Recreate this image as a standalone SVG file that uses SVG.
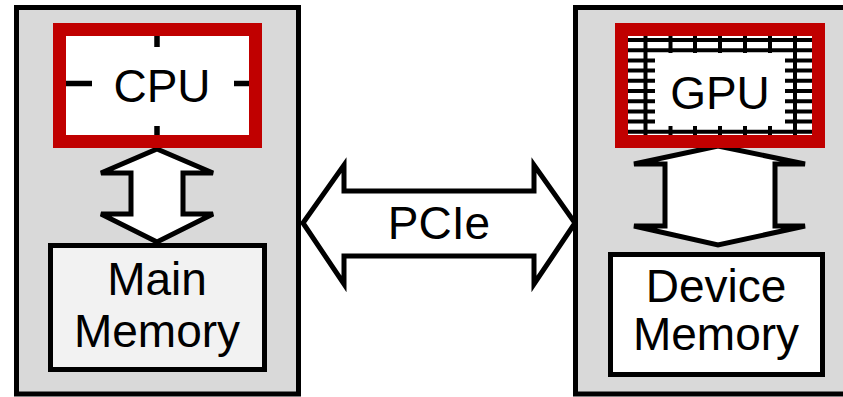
<svg xmlns="http://www.w3.org/2000/svg" width="843" height="397" viewBox="0 0 843 397">
<style>
.outer{fill:#d9d9d9;stroke:#000;stroke-width:5}
.red{fill:#fff;stroke:#c00000;stroke-width:13}
.mem{stroke:#000;stroke-width:5}
.arrow{fill:#fff;stroke:#000;stroke-width:5;stroke-linejoin:miter}
.tick{stroke:#000;stroke-width:5.5}
.grid line{stroke:#000;stroke-width:4}
text{font-family:"Liberation Sans",Arial,sans-serif;font-size:46px;fill:#000;text-anchor:middle}
</style>
<rect x="0" y="0" width="843" height="397" fill="#fff"/>
<g id="host">
<rect class="outer" x="16.5" y="7.5" width="282" height="386.5"/>
</g>
<g id="device">
<rect class="outer" x="575.5" y="7.5" width="290" height="386.5"/>
</g>
<g id="connectors">
<path class="arrow" d="M157,149 L213,173 L183,173 L183,214 L213,214 L157,242 L101,214 L131,214 L131,173 L101,173 Z"/>
<path class="arrow" d="M718,146 L805,164 L775,164 L775,226 L805,226 L718,245 L634,226 L665,226 L665,164 L634,164 Z"/>
<path class="arrow" d="M303,223 L344,165 L344,191 L534,191 L534,165 L575,223 L534,284 L534,256 L344,256 L344,284 Z"/>
<text x="439" y="239">PCIe</text>
</g>
<g id="cpu">
<rect class="red" x="59.5" y="29.5" width="196" height="112"/>
<line class="tick" x1="157" y1="36" x2="157" y2="47"/>
<line class="tick" x1="157" y1="126" x2="157" y2="135"/>
<line class="tick" x1="66" y1="83.5" x2="92" y2="83.5"/>
<line class="tick" x1="234" y1="83.5" x2="249" y2="83.5"/>
<text x="162" y="102">CPU</text>
</g>
<g id="gpu">
<rect class="red" x="621.5" y="29.5" width="197" height="112"/>
<g class="grid">
<line x1="628" y1="40" x2="812" y2="40"/>
<line x1="628" y1="50.2" x2="812" y2="50.2"/>
<line x1="628" y1="60.4" x2="812" y2="60.4"/>
<line x1="628" y1="70.6" x2="812" y2="70.6"/>
<line x1="628" y1="80.8" x2="812" y2="80.8"/>
<line x1="628" y1="91" x2="812" y2="91"/>
<line x1="628" y1="101.2" x2="812" y2="101.2"/>
<line x1="628" y1="111.4" x2="812" y2="111.4"/>
<line x1="628" y1="121.6" x2="812" y2="121.6"/>
<line x1="628" y1="131.8" x2="812" y2="131.8"/>
<line x1="645.5" y1="36" x2="645.5" y2="135"/>
<line x1="670.5" y1="36" x2="670.5" y2="135"/>
<line x1="695" y1="36" x2="695" y2="135"/>
<line x1="720" y1="36" x2="720" y2="135"/>
<line x1="745" y1="36" x2="745" y2="135"/>
<line x1="770" y1="36" x2="770" y2="135"/>
<line x1="795" y1="36" x2="795" y2="135"/>
</g>
<rect x="655" y="53" width="130" height="73" fill="#fff"/>
<text x="720" y="109">GPU</text>
</g>
<g id="main-memory">
<rect class="mem" x="50.5" y="245.5" width="214" height="124" fill="#f2f2f2"/>
<text x="157" y="295">Main</text>
<text x="157" y="347">Memory</text>
</g>
<g id="device-memory">
<rect class="mem" x="610.5" y="254.5" width="212" height="120" fill="#fff"/>
<text x="716" y="302">Device</text>
<text x="716" y="350">Memory</text>
</g>
</svg>
